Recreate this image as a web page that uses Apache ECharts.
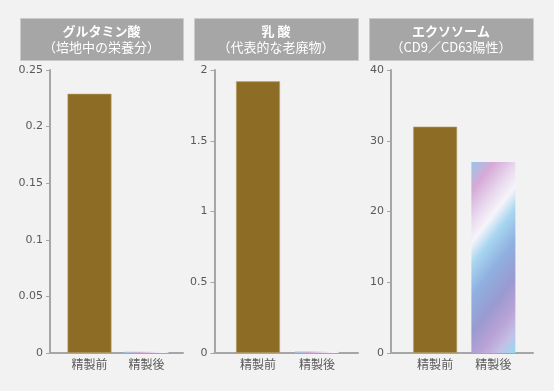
<!DOCTYPE html>
<html><head><meta charset="utf-8">
<script src="https://cdn.jsdelivr.net/npm/echarts@6/dist/echarts.min.js"></script>
<style>html,body{margin:0;padding:0;background:#f2f2f2}#c{width:554px;height:391px}</style>
</head><body><div id="c"></div>
<script>
// ---- data ----
const categories = ['精製前', '精製後'];
const titles = ['グルタミン酸', '乳 酸', 'エクソソーム'];
const subtitles = ['（培地中の栄養分）', '（代表的な老廃物）', '（CD9／CD63陽性）'];
const glutamicAcid = [0.229, 0.001];
const lacticAcid = [1.92, 0.01];
const exosome = [32, 27];
const yMax = [0.25, 2, 40];
const yInterval = [0.05, 0.5, 10];

// ---- layout / style ----
const panelValues = [glutamicAcid, lacticAcid, exosome];
const frames = [{left: 50, right: 371}, {left: 214.5, right: 196}, {left: 391, right: 21}];
const barGrids = [{left: 61, right: 379}, {left: 228.5, right: 207.5}, {left: 406, right: 31.5}];
const headers = [{x: 20, w: 163}, {x: 194, w: 164}, {x: 369, w: 164}];
const TOP = 70, BOTTOM = 38;
const axisGray = '#a6a6a6';
const textGray = '#595959';
const brown = '#8d6c26';
const iridescent = new echarts.graphic.LinearGradient(0, 0, 2.7, 0.48, [
  {offset: 0, color: '#98c6ea'},
  {offset: 0.12, color: '#d6aad6'},
  {offset: 0.24, color: '#e8d8ee'},
  {offset: 0.33, color: '#f6f4fa'},
  {offset: 0.42, color: '#a8d6f0'},
  {offset: 0.55, color: '#8fb0e0'},
  {offset: 0.7, color: '#9a9ad0'},
  {offset: 0.82, color: '#b9a2d6'},
  {offset: 0.92, color: '#c4c0e6'},
  {offset: 1, color: '#96daf2'}
]);

const grid = [], xAxis = [], yAxis = [], series = [], graphic = [];
for (let i = 0; i < 3; i++) {
  grid.push({left: frames[i].left, right: frames[i].right, top: TOP, bottom: BOTTOM});
  xAxis.push({type: 'value', gridIndex: i, min: 0, max: 1, axisLabel: {show: false},
    axisTick: {show: false}, splitLine: {show: false},
    axisLine: {show: true, lineStyle: {color: axisGray, width: 2}}});
  yAxis.push({type: 'value', gridIndex: i, min: 0, max: yMax[i], interval: yInterval[i],
    splitLine: {show: false},
    axisLine: {show: true, lineStyle: {color: axisGray, width: 2}},
    axisTick: {show: true, length: 4, lineStyle: {color: axisGray, width: 1}},
    axisLabel: {color: textGray, fontSize: 11, margin: 7, fontFamily: 'DejaVu Sans'}});
}
for (let i = 0; i < 3; i++) {
  grid.push({left: barGrids[i].left, right: barGrids[i].right, top: TOP, bottom: BOTTOM});
  xAxis.push({type: 'category', gridIndex: 3 + i, data: categories,
    axisLine: {show: false}, axisTick: {show: false},
    axisLabel: {color: textGray, fontSize: 12, margin: 5, fontFamily: 'Noto Sans CJK JP'}});
  yAxis.push({type: 'value', gridIndex: 3 + i, min: 0, max: yMax[i], show: false, splitLine: {show: false}});
  series.push({type: 'bar', xAxisIndex: 3 + i, yAxisIndex: 3 + i, barWidth: 44,
    data: panelValues[i].map((v, j) => ({value: v, itemStyle: j === 0
      ? {color: brown, borderColor: '#bda872', borderWidth: 0.6}
      : {color: iridescent}})),
    silent: true});
  graphic.push({type: 'rect', shape: {x: headers[i].x + 0.5, y: 18.5, width: headers[i].w, height: 42},
    style: {fill: '#a6a6a6', stroke: '#cbcbcb', lineWidth: 1}});
  graphic.push({type: 'text', x: headers[i].x + headers[i].w / 2, y: 31,
    style: {text: titles[i], fill: '#ffffff', font: 'bold 13px "Noto Sans CJK JP"', align: 'center', verticalAlign: 'middle'}});
  graphic.push({type: 'text', x: headers[i].x + headers[i].w / 2, y: 47.5,
    style: {text: subtitles[i], fill: '#ffffff', font: '13px "Noto Sans CJK JP"', align: 'center', verticalAlign: 'middle'}});
}

const chart = echarts.init(document.getElementById('c'), null, {renderer: 'canvas'});
chart.setOption({backgroundColor: '#f2f2f2', animation: false, grid, xAxis, yAxis, series, graphic});
</script></body></html>
